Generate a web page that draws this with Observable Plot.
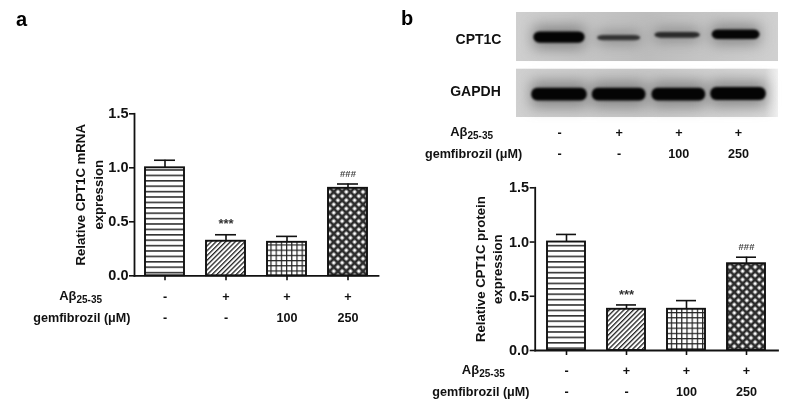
<!DOCTYPE html>
<html><head><meta charset="utf-8">
<script src="https://cdn.jsdelivr.net/npm/d3@7"></script>
<script src="https://cdn.jsdelivr.net/npm/@observablehq/plot@0.6"></script>
<style>
html,body{margin:0;padding:0;background:#fff}
#root{position:relative;width:800px;height:411px;overflow:hidden;font-family:"Liberation Sans",Arial,sans-serif;filter:blur(.35px)}
#root svg{position:absolute;left:0;top:0;background:transparent;overflow:visible}
.halo{filter:blur(7px)}
.band{filter:blur(1.2px)}
.tag{position:absolute;font-weight:bold;font-size:20px;line-height:20px;color:#000}
</style></head><body>
<div id="root">
<div class="tag" style="left:16px;top:9px">a</div>
<div class="tag" style="left:401px;top:8px">b</div>
</div>
<script>
const groups = ["control", "abeta", "abeta100", "abeta250"];
const abetaRow = ["-", "+", "+", "+"];
const gemRow = ["-", "-", "100", "250"];
const patterns = ["url(#hl)", "url(#diag)", "url(#grid)", "url(#cross)"];
const yTicks = [0, 0.5, 1, 1.5];

const mrnaMean = [1.0, 0.32, 0.31, 0.81];
const mrnaTop = [1.07, 0.38, 0.365, 0.85];
const mrnaMarks = ["", "***", "", "###"];

const proteinMean = [1.0, 0.38, 0.38, 0.80];
const proteinTop = [1.07, 0.42, 0.46, 0.86];
const proteinMarks = ["", "***", "", "###"];

const lanes = [1, 2, 3, 4];
const cpt1cWidth = [0.86, 0.72, 0.76, 0.8];
const cpt1cOffset = [0.0, 0.0, -0.02, -0.04];
const cpt1cRow = [0.01, 0.02, -0.03, -0.04];
const cpt1cThick = [0.2, 0.09, 0.1, 0.17];
const cpt1cTone = ["#040404", "#333", "#2a2a2a", "#060606"];
const gapdhWidth = [0.93, 0.9, 0.9, 0.93];
const gapdhRow = [1.02, 1.02, 1.02, 1.01];
const gapdhThick = [0.23, 0.23, 0.23, 0.23];
const gapdhTone = ["#040404", "#040404", "#040404", "#040404"];

const ink = "#111";
const font = '"Liberation Sans",Arial,sans-serif';
const defs = () => {
  const s = d3.create("svg:g");
  const d = s.append("defs");
  const tile = (id, w, h, draw, tr) => {
    const p = d.append("pattern").attr("id", id).attr("patternUnits", "userSpaceOnUse").attr("width", w).attr("height", h);
    if (tr) p.attr("patternTransform", tr);
    p.append("rect").attr("width", w).attr("height", h).attr("fill", "#fff");
    draw(p);
  };
  tile("hl", 10, 5.4, p => p.append("rect").attr("y", 1.8).attr("width", 10).attr("height", 1.6).attr("fill", "#333"));
  tile("diag", 3.4, 3.4, p => p.append("rect").attr("width", 1.3).attr("height", 3.4).attr("fill", "#222"), "rotate(45)");
  tile("grid", 5.2, 5.2, p => {
    p.append("rect").attr("width", 1.2).attr("height", 5.2).attr("fill", "#222");
    p.append("rect").attr("width", 5.2).attr("height", 1.2).attr("fill", "#222");
  });
  const c = 5.9;
  const cross = d.append("pattern").attr("id", "cross").attr("patternUnits", "userSpaceOnUse").attr("width", c).attr("height", c).attr("patternTransform", "rotate(45)");
  cross.append("rect").attr("width", c).attr("height", c).attr("fill", "#2c2c2c");
  cross.append("rect").attr("x", 1.4).attr("y", 1.4).attr("width", 3.1).attr("height", 3.1).attr("fill", "#fff");
  const g = d.append("linearGradient").attr("id", "gel");
  [[0, "#cfcfcf"], [0.5, "#bcbcbc"], [1, "#d0d0d0"]].forEach(([o, col]) => g.append("stop").attr("offset", o).attr("stop-color", col));
  const g2 = d.append("linearGradient").attr("id", "gel2");
  [[0, "#d0d0d0"], [0.5, "#c8c8c8"], [0.95, "#d8d8d8"], [1, "#f0f0f0"]].forEach(([o, col]) => g2.append("stop").attr("offset", o).attr("stop-color", col));
  return s.node();
};

function rowMarks(dys, place) {
  const base = {frameAnchor: "bottom", lineAnchor: "middle", fontWeight: "bold", fontSize: 12.6, fill: ink};
  const lab = {frameAnchor: "bottom-left", lineAnchor: "middle", fontWeight: "bold", fill: ink};
  return [
    Plot.text(abetaRow, {...base, x: (d, i) => place.xs[i], text: d => d, dy: dys[0]}),
    Plot.text(gemRow, {...base, x: (d, i) => place.xs[i], text: d => d, dy: dys[1]}),
    Plot.text(["Aβ"], {...lab, fontSize: 13, textAnchor: "end", dx: place.sub, dy: dys[0] - 1}),
    Plot.text(["25-35"], {...lab, fontSize: 10, textAnchor: "start", dx: place.sub, dy: dys[0] + 3}),
    Plot.text(["gemfibrozil (μM)"], {...lab, fontSize: 12.6, textAnchor: "end", dx: place.gem, dy: dys[1]})
  ];
}

function panel(opts) {
  const {mean, top, stars, title, left, right, topPx, bottomPx, place, rows, label} = opts;
  const data = groups.map((g, i) => ({g, mean: mean[i], top: top[i], pat: patterns[i], star: stars[i]}));
  return Plot.plot({
    width: 800, height: 411,
    marginLeft: left, marginRight: 800 - right, marginTop: topPx, marginBottom: 411 - bottomPx,
    style: {fontFamily: font, background: "transparent"},
    x: {domain: groups, paddingInner: 0.36, paddingOuter: 0.18, label: null},
    y: {domain: [0, 1.5], label: null},
    color: {type: "identity"},
    marks: [
      defs,
      Plot.ruleX(data, {x: "g", y1: "mean", y2: "top", stroke: "#111", strokeWidth: 1.6}),
      Plot.tickY(data, {x: "g", y: "top", stroke: "#111", strokeWidth: 1.6, insetLeft: 9, insetRight: 9}),
      Plot.barY(data, {x: "g", y: "mean", fill: "pat", stroke: "#111", strokeWidth: 1.9}),
      Plot.text(data.filter(d => d.star === "***"), {x: "g", y: "top", text: "star", dy: -10.5, fontWeight: "bold", fontSize: 13, fill: "#333"}),
      Plot.text(data.filter(d => d.star === "###"), {x: "g", y: "top", text: "star", dy: -10, fontWeight: "bold", fontSize: 9.5, fill: "#444"}),
      Plot.frame({anchor: "left", stroke: "#111", strokeWidth: 1.8}),
      Plot.frame({anchor: "bottom", stroke: "#111", strokeWidth: 1.8}),
      Plot.axisY({ticks: yTicks, tickFormat: ".1f", tickSize: 5, tickPadding: 1, strokeWidth: 1.6, stroke: "#111", fontSize: 14.5, fontWeight: "bold", fill: ink, label: null}),
      Plot.axisX({tickSize: 5, tickFormat: () => "", strokeWidth: 1.6, stroke: "#111", label: null}),
      Plot.text([title], {frameAnchor: "left", textAnchor: "middle", rotate: -90, dx: label, fontSize: 13.2, fontWeight: "bold", lineHeight: 1.3, fill: ink}),
      ...rowMarks(rows, {...place, xs: groups})
    ]
  });
}

const gelBands = lanes.flatMap((l, i) => [
  {x: l + cpt1cOffset[i], w: cpt1cWidth[i], y: cpt1cRow[i], t: cpt1cThick[i], tone: cpt1cTone[i]},
  {x: l, w: gapdhWidth[i], y: gapdhRow[i], t: gapdhThick[i], tone: gapdhTone[i]}
]);
const gelBackground = [{y1: -0.434, y2: 0.434, fill: "url(#gel)"}, {y1: 0.57, y2: 1.425, fill: "url(#gel2)"}];

const gel = Plot.plot({
  width: 800, height: 170,
  marginLeft: 516, marginRight: 22, marginTop: 12, marginBottom: 53,
  style: {fontFamily: font, background: "transparent"},
  x: {domain: [0.28, 4.67], axis: null},
  y: {domain: [1.425, -0.434], axis: null},
  color: {type: "identity"},
  marks: [
    defs,
    Plot.rectY(gelBackground, {x1: 0.28, x2: 4.67, y1: "y1", y2: "y2", fill: "fill"}),
    Plot.rect(gelBands, {x1: d => d.x - d.w / 2, x2: d => d.x + d.w / 2, y1: d => d.y - d.t, y2: d => d.y + d.t, fill: "#666", fillOpacity: 0.7, className: "halo"}),
    Plot.rect(gelBands, {x1: d => d.x - d.w / 2, x2: d => d.x + d.w / 2, y1: d => d.y - d.t / 2, y2: d => d.y + d.t / 2, fill: "tone", rx: 6, className: "band"}),
    Plot.text(["CPT1C"], {frameAnchor: "left", textAnchor: "middle", y: () => 0.04, dx: -38, fontSize: 14, fontWeight: "bold", fill: ink}),
    Plot.text(["GAPDH"], {frameAnchor: "left", textAnchor: "middle", y: () => 0.97, dx: -41, fontSize: 14, fontWeight: "bold", fill: ink}),
    ...rowMarks([15, 36], {xs: lanes, sub: -49, gem: 5.7})
  ]
});

const root = document.getElementById("root");
root.append(gel);
root.append(panel({
  mean: mrnaMean, top: mrnaTop, stars: mrnaMarks,
  title: "Relative CPT1C mRNA\nexpression",
  left: 134, right: 378, topPx: 113.3, bottomPx: 275.3,
  place: {sub: -58, gem: -4}, rows: [21.4, 42], label: -46
}));
root.append(panel({
  mean: proteinMean, top: proteinTop, stars: proteinMarks,
  title: "Relative CPT1C protein\nexpression",
  left: 534.7, right: 777.5, topPx: 187.3, bottomPx: 350,
  place: {sub: -56, gem: -5.7}, rows: [20.7, 41.7], label: -47.6
}));
</script>
</body></html>
